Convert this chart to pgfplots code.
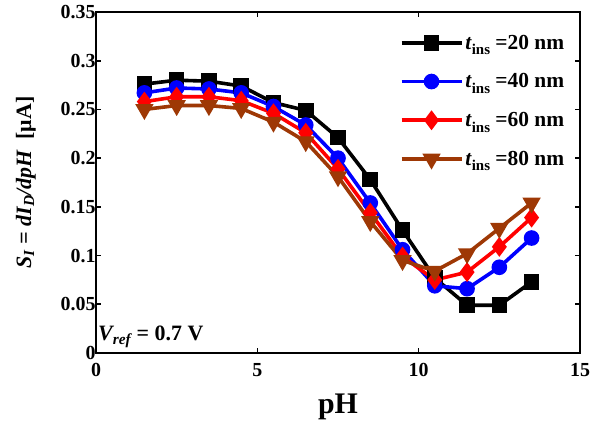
\documentclass[border=0pt]{standalone}
\usepackage{fontspec}
\setmainfont{Liberation Serif}
\usepackage{pgfplots}
\pgfplotsset{compat=1.18}

\definecolor{brownline}{rgb}{0.62,0.22,0.02}
\newcommand{\tins}{\textit{t}\raisebox{-0.55ex}{\fontsize{15}{15}\selectfont ins}}

\begin{document}
\begin{tikzpicture}
\begin{axis}[
  scale only axis,
  width=484bp, height=341bp,
  xmin=0, xmax=15, ymin=0, ymax=0.35,
  xtick={0,5,10,15},
  ytick={0,0.05,0.1,0.15,0.2,0.25,0.3,0.35},
  yticklabels={0,0.05,0.1,0.15,0.2,0.25,0.3,0.35},
  tick align=inside,
  major tick length=5bp,
  axis line style={line width=2.2bp},
  every tick/.style={line width=1.6bp, black},
  /pgf/number format/assume math mode=true,
  ticklabel style={font=\fontsize{20}{20}\selectfont\bfseries},
  xticklabel style={yshift=-7bp},
  yticklabel style={xshift=3bp},
  xlabel={\fontsize{30}{30}\selectfont\bfseries pH},
  xlabel style={yshift=-10bp},
  ylabel={\fontsize{22}{22}\selectfont\bfseries\itshape S\textsubscript{I} = dI\textsubscript{D}/dpH\upshape\ \ [μA]},
  ylabel style={yshift=18bp},
  legend style={draw=none, fill=none, at={(0.978,0.945)}, anchor=north east,
    font=\fontsize{21.5}{21.5}\selectfont\bfseries, row sep=19bp,
    /tikz/every even column/.append style={column sep=4bp}},
  legend image code/.code={
    \draw[#1] (0bp,0bp) -- (60bp,0bp);
    \draw[#1, only marks] plot coordinates {(30bp,0bp)};
  },
  every axis plot/.append style={line width=3.6bp},
]
% t_ins = 20 nm
\addplot[black, mark=square*, mark size=6bp] coordinates {
 (1.5,0.276) (2.5,0.280) (3.5,0.279) (4.5,0.274) (5.5,0.257) (6.5,0.249)
 (7.5,0.221) (8.5,0.178) (9.5,0.126) (10.5,0.077) (11.5,0.049) (12.5,0.049) (13.5,0.073)};
% t_ins = 40 nm
\addplot[blue, mark=*, mark size=6bp] coordinates {
 (1.5,0.267) (2.5,0.272) (3.5,0.271) (4.5,0.267) (5.5,0.253) (6.5,0.234)
 (7.5,0.200) (8.5,0.154) (9.5,0.106) (10.5,0.069) (11.5,0.066) (12.5,0.088) (13.5,0.118)};
% t_ins = 60 nm
\addplot[red, mark=diamond*, mark size=7bp] coordinates {
 (1.5,0.258) (2.5,0.263) (3.5,0.263) (4.5,0.259) (5.5,0.246) (6.5,0.226)
 (7.5,0.189) (8.5,0.144) (9.5,0.099) (10.5,0.075) (11.5,0.083) (12.5,0.109) (13.5,0.139)};
% t_ins = 80 nm
\addplot[brownline, mark=triangle*, mark size=7bp, mark options={rotate=180}] coordinates {
 (1.5,0.250) (2.5,0.254) (3.5,0.254) (4.5,0.251) (5.5,0.237) (6.5,0.217)
 (7.5,0.181) (8.5,0.135) (9.5,0.095) (10.5,0.084) (11.5,0.102) (12.5,0.128) (13.5,0.154)};
\legend{\tins{} =20 nm,\tins{} =40 nm,\tins{} =60 nm,\tins{} =80 nm}
\node[anchor=south west, font=\fontsize{22}{22}\selectfont\bfseries, inner sep=2bp]
  at (rel axis cs:0.0,0.01) {\textit{V\textsubscript{ref}} = 0.7 V};
\end{axis}
\path (current axis.south west) ++(-96bp,-68bp) rectangle ++(611bp,421bp);
\end{tikzpicture}
\end{document}
